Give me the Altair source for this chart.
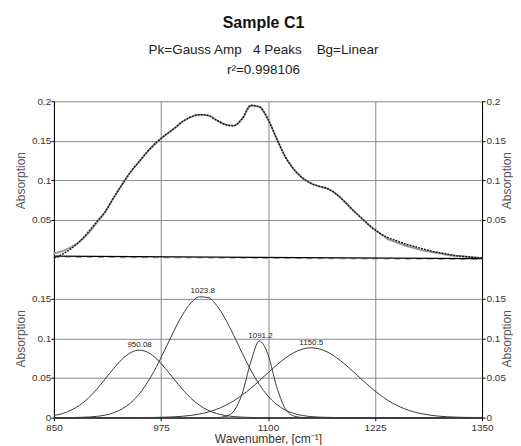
import altair as alt
import pandas as pd

FONT = "Liberation Sans"

wavenumber = list(range(850, 1351, 10))

measured = [0.001, 0.006, 0.013, 0.022, 0.034, 0.047, 0.060, 0.078, 0.095, 0.111,
            0.124, 0.137, 0.148, 0.157, 0.165, 0.174, 0.180, 0.183, 0.182, 0.176,
            0.1705, 0.169, 0.178, 0.195, 0.193, 0.177, 0.153, 0.130, 0.114, 0.103,
            0.096, 0.092, 0.089, 0.082, 0.072, 0.061, 0.051, 0.041, 0.033, 0.027,
            0.023, 0.019, 0.016, 0.013, 0.010, 0.008, 0.006, 0.004, 0.003, 0.002,
            0.001]

fitted = [0.007, 0.010, 0.015, 0.022, 0.032, 0.046, 0.060, 0.078, 0.095, 0.111,
          0.124, 0.137, 0.148, 0.157, 0.165, 0.174, 0.180, 0.183, 0.182, 0.176,
          0.1705, 0.169, 0.178, 0.194, 0.193, 0.177, 0.153, 0.130, 0.114, 0.103,
          0.096, 0.092, 0.089, 0.082, 0.072, 0.061, 0.051, 0.041, 0.033, 0.025,
          0.021, 0.017, 0.014, 0.011, 0.009, 0.007, 0.005, 0.004, 0.003, 0.002,
          0.001]

baseline_x = [850, 1350]
baseline_y = [0.0035, 0.0005]

peak_950 = [0.0027, 0.0051, 0.0093, 0.0156, 0.0244, 0.0358, 0.0489, 0.0622, 0.0740, 0.0821,
            0.0850, 0.0821, 0.0740, 0.0622, 0.0489, 0.0358, 0.0244, 0.0156, 0.0093, 0.0051,
            0.0027, 0.0013, 0.0006, 0.0002, 0.0001, 0, 0, 0, 0, 0,
            0, 0, 0, 0, 0, 0, 0, 0, 0, 0,
            0, 0, 0, 0, 0, 0, 0, 0, 0, 0, 0]

peak_1024 = [0.0000, 0.0001, 0.0001, 0.0003, 0.0007, 0.0016, 0.0032, 0.0062, 0.0112, 0.0189,
             0.0303, 0.0456, 0.0647, 0.0865, 0.1089, 0.1293, 0.1446, 0.1523, 0.1513, 0.1415,
             0.1248, 0.1036, 0.0811, 0.0598, 0.0416, 0.0272, 0.0168, 0.0097, 0.0053, 0.0028,
             0.0013, 0.0006, 0.0003, 0.0001, 0, 0, 0, 0, 0, 0,
             0, 0, 0, 0, 0, 0, 0, 0, 0, 0, 0]

peak_1091 = [0, 0, 0, 0, 0, 0, 0, 0, 0, 0,
             0, 0, 0, 0, 0, 0, 0, 0, 0, 0.0001,
             0.0013, 0.0081, 0.0308, 0.0704, 0.0966, 0.0796, 0.0394, 0.0117, 0.0021, 0.0002,
             0, 0, 0, 0, 0, 0, 0, 0, 0, 0,
             0, 0, 0, 0, 0, 0, 0, 0, 0, 0, 0]

peak_1150 = [0, 0, 0, 0, 0, 0, 0, 0, 0, 0,
             0.0001, 0.0002, 0.0003, 0.0006, 0.0010, 0.0017, 0.0028, 0.0045, 0.0070, 0.0105,
             0.0152, 0.0212, 0.0285, 0.0370, 0.0465, 0.0565, 0.0661, 0.0748, 0.0818, 0.0863,
             0.0880, 0.0866, 0.0824, 0.0756, 0.0671, 0.0575, 0.0475, 0.0380, 0.0293, 0.0218,
             0.0157, 0.0109, 0.0073, 0.0048, 0.0030, 0.0018, 0.0010, 0.0006, 0.0003, 0.0002,
             0.0001]

peak_centers = [950.08, 1023.8, 1091.2, 1150.5]
peak_heights = [0.085, 0.153, 0.097, 0.088]
peak_labels = ["950.08", "1023.8", "1091.2", "1150.5"]

x_ticks = [850, 975, 1100, 1225, 1350]
y_ticks_top = [0.05, 0.1, 0.15, 0.2]
y_ticks_bottom = [0, 0.05, 0.1, 0.15]

# ---------- data frames ----------
top_df = pd.DataFrame({"wn": wavenumber, "measured": measured, "fitted": fitted})
base_df = pd.DataFrame({"wn": baseline_x, "bg": baseline_y})
peaks_df = pd.concat([
    pd.DataFrame({"wn": wavenumber, "abs": vals, "peak": name})
    for name, vals in zip(peak_labels, [peak_950, peak_1024, peak_1091, peak_1150])
])
labels_df = pd.DataFrame({"wn": peak_centers, "abs": peak_heights, "label": peak_labels})

W = 429
H_TOP = 158
H_BOT = 159

x_scale = alt.Scale(domain=[850, 1350], nice=False, zero=False)

def y_axis(values, orient, grid):
    right = orient == "right"
    extra = {"titleBaseline": "top"} if right else {}
    return alt.Axis(values=values, orient=orient, grid=grid, format="~g",
                    title="Absorption", titleAngle=270,
                    titleFontSize=12, titleFontWeight="normal", titleColor="#555",
                    titleFont=FONT, labelFont=FONT, labelFontSize=10, labelColor="#333",
                    tickSize=3, labelPadding=1 if right else 0,
                    titlePadding=-4 if right else 4, labelFlush=False,
                    domainColor="black", tickColor="black",
                    gridColor="#8a8a8a", gridWidth=1, **extra)

x_axis_top = alt.Axis(values=x_ticks, grid=True, labels=False, ticks=False, domain=False,
                      title=None, gridColor="#8a8a8a", gridWidth=1)
x_axis_bot = alt.Axis(values=x_ticks, grid=True, format="d", title="Wavenumber, [cm⁻¹]",
                      titleFont=FONT, titleFontSize=12, titleFontWeight="normal",
                      titleColor="#333", titlePadding=1, labelFlush=False,
                      labelFont=FONT, labelFontSize=10, labelColor="#333",
                      tickSize=3, labelPadding=2, domainColor="black", tickColor="black",
                      gridColor="#8a8a8a", gridWidth=1)

# ---------- top panel ----------
ys_top = alt.Scale(domain=[0, 0.2], nice=False, zero=False)
base_top = alt.Chart(top_df)
fit_line = base_top.mark_line(color="#9a9a9a", strokeWidth=1.8, interpolate="monotone").encode(
    x=alt.X("wn:Q", scale=x_scale, axis=x_axis_top),
    y=alt.Y("fitted:Q", scale=ys_top, axis=y_axis(y_ticks_top, "left", True)),
)
meas_line = base_top.mark_line(color="#1a1a1a", strokeWidth=1.5, strokeDash=[2, 1],
                               interpolate="monotone").encode(
    x=alt.X("wn:Q", scale=x_scale),
    y=alt.Y("measured:Q", scale=ys_top),
)
bg_dash = alt.Chart(base_df).mark_line(color="#aaaaaa", strokeWidth=1.2, strokeDash=[6, 5],
                                       yOffset=1).encode(
    x=alt.X("wn:Q", scale=x_scale),
    y=alt.Y("bg:Q", scale=ys_top),
)
bg_line = alt.Chart(base_df).mark_line(color="black", strokeWidth=1.2).encode(
    x=alt.X("wn:Q", scale=x_scale),
    y=alt.Y("bg:Q", scale=ys_top),
)
top_main = alt.layer(fit_line, bg_dash, bg_line, meas_line)
top_right = alt.Chart(base_df).mark_line(opacity=0).encode(
    x=alt.X("wn:Q", scale=x_scale),
    y=alt.Y("bg:Q", scale=ys_top, axis=y_axis(y_ticks_top, "right", False)),
)
top_panel = alt.layer(top_main, top_right).resolve_scale(y="independent").properties(
    width=W, height=H_TOP)

# ---------- bottom panel ----------
ys_bot = alt.Scale(domain=[0, 0.2], nice=False, zero=False)
peak_lines = alt.Chart(peaks_df).mark_line(color="#3a3a3a", strokeWidth=1,
                                           interpolate="monotone").encode(
    x=alt.X("wn:Q", scale=x_scale, axis=x_axis_bot),
    y=alt.Y("abs:Q", scale=ys_bot, axis=y_axis(y_ticks_bottom, "left", True)),
    detail="peak:N",
)
peak_text = alt.Chart(labels_df).mark_text(font=FONT, fontSize=8, color="#222",
                                           baseline="bottom", dy=-1).encode(
    x=alt.X("wn:Q", scale=x_scale),
    y=alt.Y("abs:Q", scale=ys_bot),
    text="label:N",
)
bot_main = alt.layer(peak_lines, peak_text)
bot_right = alt.Chart(labels_df).mark_point(opacity=0).encode(
    x=alt.X("wn:Q", scale=x_scale),
    y=alt.Y("abs:Q", scale=ys_bot, axis=y_axis(y_ticks_bottom, "right", False)),
)
bot_panel = alt.layer(bot_main, bot_right).resolve_scale(y="independent").properties(
    width=W, height=H_BOT)

NB = "\u00a0"
chart = alt.vconcat(top_panel, bot_panel, spacing=0, bounds="flush").properties(
    title=alt.TitleParams(
        text="Sample C1",
        subtitle=[f"Pk=Gauss Amp{NB}{NB}{NB}4 Peaks{NB}{NB}{NB}{NB}Bg=Linear", "r²=0.998106"],
        font=FONT, fontSize=16, fontWeight="bold", color="#111",
        subtitleFont=FONT, subtitleFontSize=13.5, subtitleColor="#222",
        subtitleLineHeight=20, subtitlePadding=12, offset=20, anchor="middle",
    ),
    padding={"left": 6, "top": 6, "right": 0, "bottom": 0},
).configure_view(stroke=None)

chart.save("out.html", embed_options={"renderer": "svg", "actions": False})
